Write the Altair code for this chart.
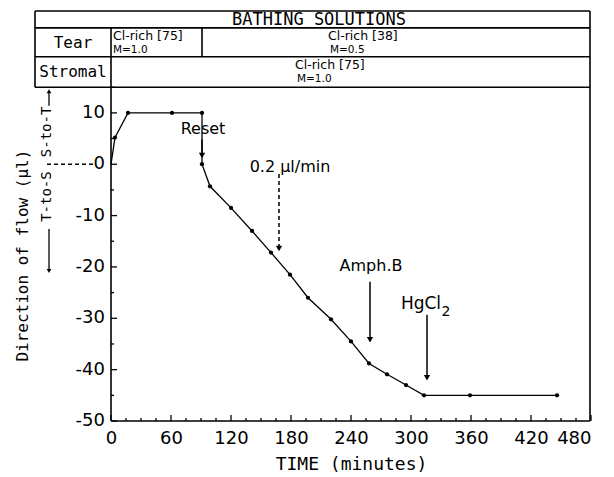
import altair as alt
import pandas as pd

# ---------------- data ----------------
time_min = [0, 4, 17, 61, 91, 91, 99, 120, 141, 160, 179, 197, 220, 240, 258, 276, 295, 313, 359, 446]
flow_ul = [0, 5.2, 10, 10, 10, 0, -4.3, -8.5, -13.0, -17.2, -21.5, -26.0, -30.2, -34.5, -38.8, -40.9, -43.0, -45.0, -45.0, -45.0]
has_marker = [False] + [True] * 19

x_tick_labels = [0, 60, 120, 180, 240, 300, 360, 420, 480]
y_tick_labels = [10, 0, -10, -20, -30, -40, -50]

annot_text = ["Reset", "0.2  \u03bcl/min", "Amph.B", "HgCl"]
annot_t = [92, 179, 260, 310]
annot_v = [6.8, -0.6, -19.8, -27.3]

arrow_t = [91, 168, 259, 316]
arrow_top = [4.8, -1.9, -22.9, -29.3]
arrow_tip = [1.7, -16.4, -34.2, -41.6]
arrow_dashed = [False, True, False, False]

header_title = "BATHING SOLUTIONS"
row_labels = ["Tear", "Stromal"]
sol_name = ["Cl-rich [75]", "Cl-rich [38]", "Cl-rich [75]"]
sol_m = ["M=1.0", "M=0.5", "M=1.0"]

# ---------------- layout (chart units: minutes / microlitres) ----------------
X_DOMAIN = [-103, 480]
Y_DOMAIN = [-50, 29.84]
W, H = 583, 410
PX_PER_UL = H / (Y_DOMAIN[1] - Y_DOMAIN[0])

xs = alt.Scale(domain=X_DOMAIN, nice=False, zero=False)
ys = alt.Scale(domain=Y_DOMAIN, nice=False, zero=False)

SANS = "DejaVu Sans"
MONO = "DejaVu Sans Mono"

x_axis = alt.Axis(values=x_tick_labels, domain=False, ticks=False, grid=False,
                  labelFont=SANS, labelFontSize=18, labelColor="black", labelPadding=8,
                  title="TIME (minutes)", titleFont=MONO, titleFontSize=18,
                  titleFontWeight="normal", titleColor="black", titlePadding=8,
                  titleX=(0 - X_DOMAIN[0] + 240) * W / (X_DOMAIN[1] - X_DOMAIN[0]),
                  titleAlign="center", titleAnchor="middle")


def X(field):
    return alt.X(field, type="quantitative", scale=xs, axis=x_axis)


def Y(field):
    return alt.Y(field, type="quantitative", scale=ys, axis=None)


# frame / table lines
frame = pd.DataFrame([
    (-76, 479, 29.84, 29.84),
    (-76, 479, 26.55, 26.55),
    (-76, 479, 20.93, 20.93),
    (-76, 479, 15.0, 15.0),
    (0, 479, -50, -50),
    (-76, -76, 15.0, 29.84),
    (0, 0, -50, 26.55),
    (91, 91, 20.93, 26.55),
    (479, 479, -50, 29.84),
], columns=["x", "x2", "y", "y2"])

frame_layer = alt.Chart(frame).mark_rule(color="black", strokeWidth=1.6).encode(
    x=X("x"), x2="x2", y=Y("y"), y2="y2")

# inward ticks
xt = []
for t in range(0, 481, 15):
    ln = 6 if t % 60 == 0 else 3
    xt.append({"x": t, "y": -50, "y2": -50 + ln / PX_PER_UL})
yt = []
for v in range(-50, 16, 5):
    ln = 6 if v % 10 == 0 else 3
    yt.append({"y": v, "x": 0, "x2": ln})
xtick_layer = alt.Chart(pd.DataFrame(xt)).mark_rule(color="black", strokeWidth=1.3).encode(
    x=X("x"), y=Y("y"), y2="y2")
ytick_layer = alt.Chart(pd.DataFrame(yt)).mark_rule(color="black", strokeWidth=1.3).encode(
    x=X("x"), x2="x2", y=Y("y"))

ylab = pd.DataFrame({"v": y_tick_labels, "lab": [str(v) for v in y_tick_labels], "t": [-6] * len(y_tick_labels)})
ylab_layer = alt.Chart(ylab).mark_text(font=SANS, fontSize=18, align="right", baseline="middle", color="black").encode(
    x=X("t"), y=Y("v"), text="lab:N")

# y title and direction labels
side = pd.DataFrame({"t": [-88, -64, -64], "v": [-17.8, -6.3, 6.3],
                     "lab": ["Direction of flow (\u03bcl)", "T-to-S", "S-to-T"],
                     "fs": [16, 14, 14]})
side_layer = alt.Chart(side).mark_text(font=MONO, angle=270, align="center", baseline="middle", color="black").encode(
    x=X("t"), y=Y("v"), text="lab:N", size=alt.Size("fs:Q", scale=None, legend=None))

dash0 = pd.DataFrame({"x": [-64], "x2": [-15], "y": [0]})
dash0_layer = alt.Chart(dash0).mark_rule(color="black", strokeWidth=1.3, strokeDash=[4, 3]).encode(
    x=X("x"), x2="x2", y=Y("y"))

side_arrows = pd.DataFrame({"x": [-62, -62], "y": [11.4, -12.6], "y2": [14.0, -20.5]})
side_arrow_layer = alt.Chart(side_arrows).mark_rule(color="black", strokeWidth=1.3).encode(
    x=X("x"), y=Y("y"), y2="y2")
side_heads = pd.DataFrame({"x": [-62, -62], "y": [14.2, -20.8], "shape": ["triangle-up", "triangle-down"]})
side_head_layer = alt.Chart(side_heads).mark_point(filled=True, color="black", size=22, opacity=1).encode(
    x=X("x"), y=Y("y"), shape=alt.Shape("shape:N", scale=None, legend=None))

# data
df = pd.DataFrame({"t": time_min, "v": flow_ul, "m": has_marker, "i": list(range(len(time_min)))})
line_layer = alt.Chart(df).mark_line(color="black", strokeWidth=1.3).encode(
    x=X("t"), y=Y("v"), order="i:Q")
pt_layer = alt.Chart(df).transform_filter("datum.m").mark_point(filled=True, color="black", size=18, opacity=1).encode(
    x=X("t"), y=Y("v"))

# annotation arrows
arr = pd.DataFrame({"x": arrow_t, "y": arrow_top, "y2": arrow_tip, "d": arrow_dashed})
arr_solid = alt.Chart(arr).transform_filter("!datum.d").mark_rule(color="black", strokeWidth=1.5).encode(
    x=X("x"), y=Y("y"), y2="y2")
arr_dash = alt.Chart(arr).transform_filter("datum.d").mark_rule(color="black", strokeWidth=1.5, strokeDash=[4, 3]).encode(
    x=X("x"), y=Y("y"), y2="y2")
arr_head = alt.Chart(arr).mark_point(shape="triangle-down", filled=True, color="black", size=40, opacity=1).encode(
    x=X("x"), y=Y("y2"))

ann = pd.DataFrame({"t": annot_t, "v": annot_v, "lab": annot_text})
ann_c = alt.Chart(ann.iloc[:3]).mark_text(font=SANS, fontSize=16, align="center", baseline="middle", color="black").encode(
    x=X("t"), y=Y("v"), text="lab:N")
ann_l = alt.Chart(ann.iloc[3:]).mark_text(font=SANS, fontSize=17, align="center", baseline="middle", color="black").encode(
    x=X("t"), y=Y("v"), text="lab:N")
sub = pd.DataFrame({"t": [335], "v": [-28.7], "lab": ["2"]})
sub_layer = alt.Chart(sub).mark_text(font=SANS, fontSize=14, align="center", baseline="middle", color="black").encode(
    x=X("t"), y=Y("v"), text="lab:N")

# header texts
hdr_big = pd.DataFrame({"t": [208], "v": [28.15], "lab": [header_title]})
hdr_big_layer = alt.Chart(hdr_big).mark_text(font=MONO, fontSize=17, align="center", baseline="middle", color="black").encode(
    x=X("t"), y=Y("v"), text="lab:N")
hdr_rows = pd.DataFrame({"t": [-38, -38], "v": [23.6, 17.9], "lab": row_labels})
hdr_rows_layer = alt.Chart(hdr_rows).mark_text(font=MONO, fontSize=16, align="center", baseline="middle", color="black").encode(
    x=X("t"), y=Y("v"), text="lab:N")
hdr_sol = pd.DataFrame({"t": [2, 217, 184], "v": [24.9, 24.9, 19.3], "lab": sol_name})
hdr_sol_layer = alt.Chart(hdr_sol).mark_text(font=SANS, fontSize=12.5, align="left", baseline="middle", color="black").encode(
    x=X("t"), y=Y("v"), text="lab:N")
hdr_m = pd.DataFrame({"t": [2, 219, 186], "v": [22.3, 22.3, 16.6], "lab": sol_m})
hdr_m_layer = alt.Chart(hdr_m).mark_text(font=SANS, fontSize=10.5, align="left", baseline="middle", color="black").encode(
    x=X("t"), y=Y("v"), text="lab:N")

chart = alt.layer(
    frame_layer, xtick_layer, ytick_layer, ylab_layer, side_layer, dash0_layer,
    side_arrow_layer, side_head_layer, line_layer, pt_layer, arr_solid, arr_dash, arr_head,
    ann_c, ann_l, sub_layer, hdr_big_layer, hdr_rows_layer, hdr_sol_layer, hdr_m_layer
).properties(width=W, height=H, padding={"left": 0, "top": 2, "right": 4, "bottom": 4},
             background="white").configure_view(stroke=None)

chart.save("out.html", embed_options={"renderer": "svg", "actions": False})
